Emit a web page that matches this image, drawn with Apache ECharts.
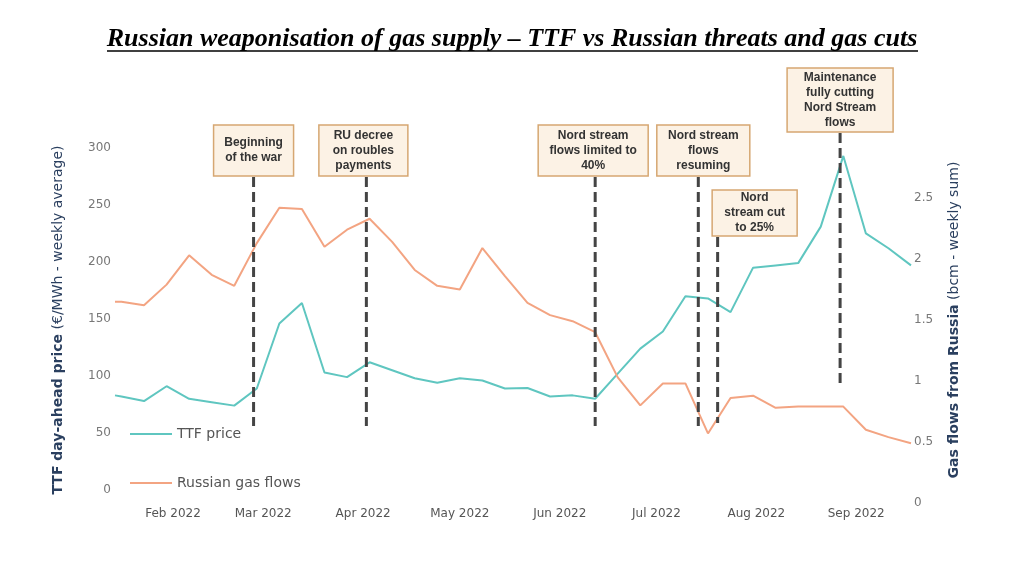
<!DOCTYPE html>
<html>
<head>
<meta charset="utf-8">
<title>Russian weaponisation of gas supply</title>
<script src="https://cdn.jsdelivr.net/npm/echarts@6/dist/echarts.min.js"></script>
<style>
  html, body { margin: 0; padding: 0; background: #fff; }
  #chart { width: 1024px; height: 570px; }
</style>
</head>
<body>
<div id="chart"></div>
<script>
// weekly points, the first one is where the line is cut off on the left
var weeks = ['2022-01-14', '2022-01-16', '2022-01-23', '2022-01-30', '2022-02-06', '2022-02-13',
    '2022-02-20', '2022-02-27', '2022-03-06', '2022-03-13', '2022-03-20', '2022-03-27',
    '2022-04-03', '2022-04-10', '2022-04-17', '2022-04-24', '2022-05-01', '2022-05-08',
    '2022-05-15', '2022-05-22', '2022-05-29', '2022-06-05', '2022-06-12', '2022-06-19',
    '2022-06-26', '2022-07-03', '2022-07-10', '2022-07-17', '2022-07-24', '2022-07-31',
    '2022-08-07', '2022-08-14', '2022-08-21', '2022-08-28', '2022-09-04', '2022-09-11',
    '2022-09-18'];
// TTF day-ahead price, EUR/MWh
var ttfPrice = [83, 82, 78, 91, 80, 77, 74, 89, 146, 164, 103, 99, 112, 105, 98, 94, 98, 96,
    89, 89.5, 82, 83, 80, 102, 124, 139, 170, 168, 156, 195, 197, 199, 231, 293, 225, 212, 197];
// Russian gas flows, bcm
var gasFlows = [1.65, 1.65, 1.62, 1.79, 2.03, 1.87, 1.78, 2.13, 2.42, 2.41, 2.10, 2.24, 2.33,
    2.14, 1.91, 1.78, 1.75, 2.09, 1.86, 1.64, 1.54, 1.49, 1.40, 1.03, 0.80, 0.98, 0.98, 0.57,
    0.86, 0.88, 0.78, 0.79, 0.79, 0.79, 0.60, 0.54, 0.49];

var monthTicks = ['2022-02-01', '2022-03-01', '2022-04-01', '2022-05-01', '2022-06-01',
    '2022-07-01', '2022-08-01', '2022-09-01'];
var monthLabels = ['Feb 2022', 'Mar 2022', 'Apr 2022', 'May 2022', 'Jun 2022', 'Jul 2022',
    'Aug 2022', 'Sep 2022'];
var leftTicks = [0, 50, 100, 150, 200, 250, 300];
var rightTicks = [0, 0.5, 1, 1.5, 2, 2.5];

var eventDates = ['2022-02-26', '2022-04-02', '2022-06-12', '2022-07-14', '2022-07-20', '2022-08-27'];
var eventTexts = ['Beginning\nof the war', 'RU decree\non roubles\npayments',
    'Nord stream\nflows limited to\n40%', 'Nord stream\nflows\nresuming',
    'Nord\nstream cut\nto 25%', 'Maintenance\nfully cutting\nNord Stream\nflows'];

// box placement for each event (pixels)
var boxLayout = [
    {top: 125, w: 80, h: 51, dx: 0, y1: 177, y2: 426},
    {top: 125, w: 89, h: 51, dx: -3, y1: 177, y2: 426},
    {top: 125, w: 110, h: 51, dx: -2, y1: 177, y2: 426},
    {top: 125, w: 93, h: 51, dx: 5, y1: 177, y2: 426},
    {top: 190, w: 85, h: 46, dx: 37, y1: 237, y2: 423},
    {top: 68, w: 106, h: 64, dx: 0, y1: 133, y2: 383}
];

function dayOf(s) {
    var p = s.split('-');
    return (Date.UTC(+p[0], +p[1] - 1, +p[2]) - Date.UTC(2022, 0, 1)) / 86400000;
}

var monthDays = monthTicks.map(dayOf);
var tickFont = {color: '#777', fontSize: 12, fontFamily: 'DejaVu Sans'};
var nameColor = '#2a3f5f';

var chart = echarts.init(document.getElementById('chart'));
chart.setOption({
    animation: false,
    backgroundColor: '#fff',
    grid: {left: 115, right: 113, top: 137, bottom: 67},
    legend: {
        data: ['TTF price', 'Russian gas flows'],
        orient: 'vertical',
        left: 124,
        top: 422,
        itemWidth: 42,
        itemHeight: 14,
        itemGap: 35,
        itemStyle: {opacity: 0},
        textStyle: {fontSize: 14, color: '#555', fontFamily: 'DejaVu Sans'}
    },
    xAxis: {
        type: 'value',
        min: 13,
        max: 260,
        axisLine: {show: false},
        axisTick: {show: false},
        splitLine: {show: false},
        axisLabel: {
            customValues: monthDays,
            margin: 5,
            color: '#555',
            fontSize: 12,
            fontFamily: 'DejaVu Sans',
            formatter: function (v) {
                var i = monthDays.indexOf(v);
                return i >= 0 ? monthLabels[i] : '';
            }
        }
    },
    yAxis: [
        {
            type: 'value',
            min: -11.4,
            max: 309.6,
            axisLine: {show: false},
            axisTick: {show: false},
            splitLine: {show: false},
            axisLabel: Object.assign({customValues: leftTicks, margin: 4}, tickFont),
            name: '{b|TTF day-ahead price} (€/MWh - weekly average)',
            nameLocation: 'middle',
            nameRotate: 90,
            nameGap: 50,
            nameTextStyle: {
                color: nameColor, fontSize: 14, fontFamily: 'DejaVu Sans',
                rich: {b: {fontWeight: 'bold', color: nameColor, fontSize: 14, fontFamily: 'DejaVu Sans'}}
            }
        },
        {
            type: 'value',
            position: 'right',
            min: 0,
            max: 3,
            axisLine: {show: false},
            axisTick: {show: false},
            splitLine: {show: false},
            axisLabel: Object.assign({customValues: rightTicks, margin: 3}, tickFont),
            name: '{b|Gas flows from Russia} (bcm - weekly sum)',
            nameLocation: 'middle',
            nameRotate: 90,
            nameGap: 36,
            nameTextStyle: {
                color: nameColor, fontSize: 14, fontFamily: 'DejaVu Sans',
                rich: {b: {fontWeight: 'bold', color: nameColor, fontSize: 14, fontFamily: 'DejaVu Sans'}}
            }
        }
    ],
    series: [
        {
            name: 'TTF price',
            type: 'line',
            yAxisIndex: 0,
            symbol: 'none',
            lineStyle: {width: 2, color: '#5fc6c0'},
            itemStyle: {color: '#5fc6c0'},
            data: weeks.map(function (w, i) { return [dayOf(w), ttfPrice[i]]; })
        },
        {
            name: 'Russian gas flows',
            type: 'line',
            yAxisIndex: 1,
            symbol: 'none',
            lineStyle: {width: 2, color: '#f3a482'},
            itemStyle: {color: '#f3a482'},
            data: weeks.map(function (w, i) { return [dayOf(w), gasFlows[i]]; })
        }
    ]
});

// title, event boxes and dashed markers
var graphics = [
    {
        type: 'text', z: 100,
        style: {
            text: 'Russian weaponisation of gas supply \u2013 TTF vs Russian threats and gas cuts',
            x: 512, y: 39, align: 'center', verticalAlign: 'middle',
            font: 'italic bold 26px "Liberation Serif"', fill: '#000'
        }
    },
    {
        type: 'line', z: 100,
        shape: {x1: 107, y1: 51, x2: 918, y2: 51},
        style: {stroke: '#000', lineWidth: 1.5}
    }
];
eventDates.forEach(function (d, i) {
    var b = boxLayout[i];
    var x = chart.convertToPixel({xAxisIndex: 0}, dayOf(d));
    var cx = x + b.dx;
    graphics.push({
        type: 'line', z: 100,
        shape: {x1: x, y1: b.y1, x2: x, y2: b.y2},
        style: {stroke: '#444', lineWidth: 3, lineDash: [10, 5]}
    });
    graphics.push({
        type: 'rect', z: 101,
        shape: {x: cx - b.w / 2, y: b.top, width: b.w, height: b.h},
        style: {fill: '#fcf2e5', stroke: '#d6a772', lineWidth: 1.5}
    });
    graphics.push({
        type: 'text', z: 102,
        style: {
            text: eventTexts[i], x: cx, y: b.top + b.h / 2,
            align: 'center', verticalAlign: 'middle', lineHeight: 15,
            font: 'bold 12px "Liberation Sans"', fill: '#333'
        }
    });
});
chart.setOption({graphic: graphics});
</script>
</body>
</html>
